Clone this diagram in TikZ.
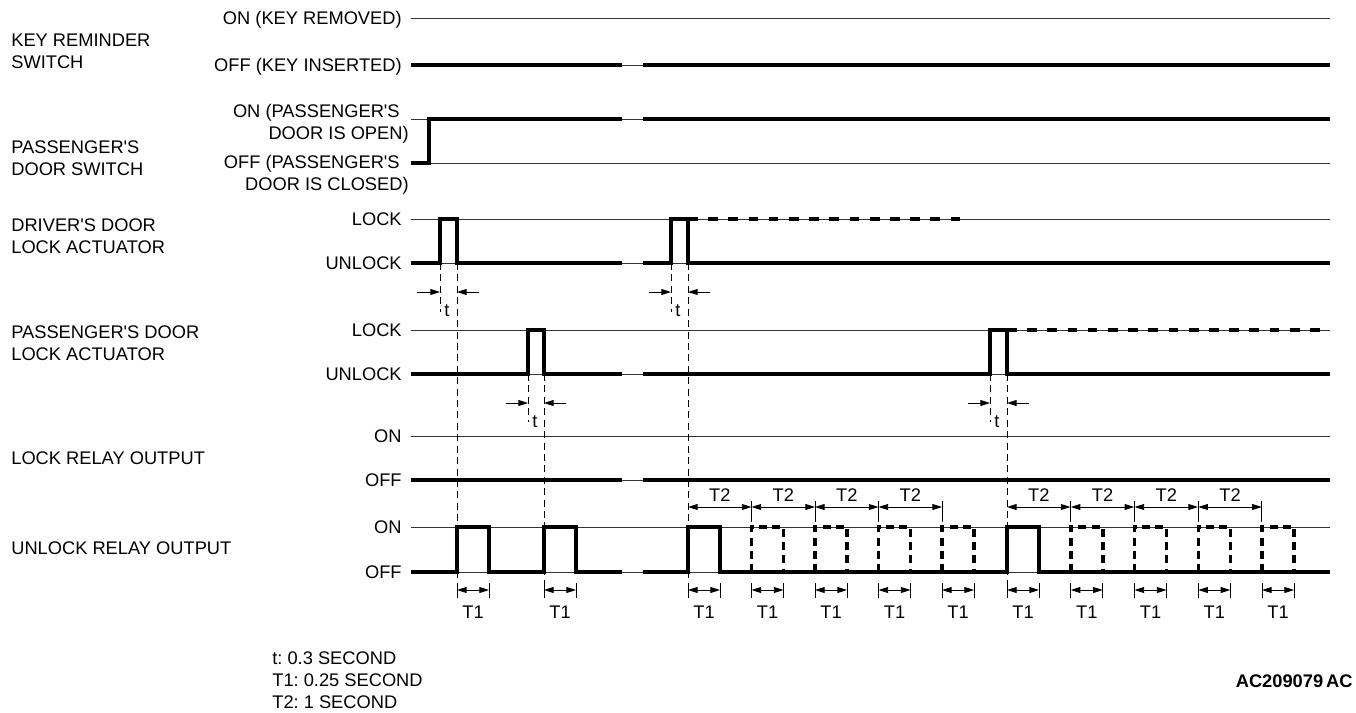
\documentclass[tikz,border=0pt]{standalone}
\usepackage{fontspec}
\setmainfont{Liberation Sans}
\usetikzlibrary{arrows.meta}
\newcommand{\ap}{\textquotesingle}
\frenchspacing

\begin{document}
\begin{tikzpicture}[
    x=0.02cm, y=-0.02cm,
    font=\fontsize{10.4}{12.5}\selectfont,
    sigtitle/.style={anchor=west, align=left, inner sep=0pt},
    lvl/.style={anchor=east, inner sep=0pt, text height=7.4pt, text depth=0pt},
    refline/.style={line width=0.5pt, black!80},
    sig/.style={line width=2pt},
    lockdash/.style={line width=2pt, dash pattern=on 5.5pt off 6pt},
    pulsedash/.style={line width=2pt, dash pattern=on 4.5pt off 3pt},
    guide/.style={line width=0.5pt, dash pattern=on 4pt off 2.5pt},
    dimtick/.style={line width=0.5pt},
    tarrow/.style={line width=0.5pt, -{Triangle[length=5.5pt, width=3.4pt]}},
    dimarrow/.style={line width=0.5pt, {Triangle[length=5.5pt, width=3.4pt]}-{Triangle[length=5.5pt, width=3.4pt]}}
]
\useasboundingbox (0,0) rectangle (1356,713);

\node (keysw) [sigtitle] at (11,51) {KEY REMINDER\\SWITCH};
\node (psgsw) [sigtitle] at (11,158) {PASSENGER\ap S\\DOOR SWITCH};
\node (drvact) [sigtitle] at (11,236) {DRIVER\ap S DOOR\\LOCK ACTUATOR};
\node (psgact) [sigtitle] at (11,343) {PASSENGER\ap S DOOR\\LOCK ACTUATOR};
\node (lockrly) [sigtitle] at (11,458) {LOCK RELAY OUTPUT};
\node (unlockrly) [sigtitle] at (11,548) {UNLOCK RELAY OUTPUT};

\node (keyon) [lvl] at (402,18) {ON (KEY REMOVED)};
\node (keyoff) [lvl] at (402,65) {OFF (KEY INSERTED)};
\node (psgon) [lvl] at (400,111) {ON (PASSENGER\ap S};
\node (psgon2) [lvl] at (409,133) {DOOR IS OPEN)};
\node (psgoff) [lvl] at (400,162) {OFF (PASSENGER\ap S};
\node (psgoff2) [lvl] at (409,184) {DOOR IS CLOSED)};
\node (drvlock) [lvl] at (402,219) {LOCK};
\node (drvunlock) [lvl] at (402,263) {UNLOCK};
\node (psglock) [lvl] at (402,330) {LOCK};
\node (psgunlock) [lvl] at (402,374) {UNLOCK};
\node (lockon) [lvl] at (402,436) {ON};
\node (lockoff) [lvl] at (402,480) {OFF};
\node (unlockon) [lvl] at (402,527) {ON};
\node (unlockoff) [lvl] at (402,572) {OFF};

\foreach \y in {18,65,119,163,219,263,330,374,436,480,527,572}
    \draw [refline] (411,\y) -- (1330,\y);

\draw [sig] (411,65) -- (622,65);
\draw [sig] (643,65) -- (1330,65);

\draw [sig] (411,163) -- (429,163) -- (429,119) -- (622,119);
\draw [sig] (643,119) -- (1330,119);

\draw [sig] (411,263) -- (440,263) -- (440,219) -- (457,219) -- (457,263) -- (622,263);
\draw [sig] (643,263) -- (671,263) -- (671,219) -- (688,219) -- (688,263) -- (1330,263);
\draw [lockdash] (688,219) -- (970,219);

\draw [sig] (411,374) -- (528,374) -- (528,330) -- (544,330) -- (544,374) -- (622,374);
\draw [sig] (643,374) -- (990,374) -- (990,330) -- (1007,330) -- (1007,374) -- (1330,374);
\draw [lockdash] (1007,330) -- (1330,330);

\draw [sig] (411,480) -- (622,480);
\draw [sig] (643,480) -- (1330,480);

\draw [sig] (411,572) -- (457,572) -- (457,527) -- (489,527) -- (489,572) -- (544,572)
    -- (544,527) -- (576,527) -- (576,572) -- (622,572);
\draw [sig] (643,572) -- (688,572) -- (688,527) -- (720,527) -- (720,572) -- (1007,572)
    -- (1007,527) -- (1039,527) -- (1039,572) -- (1330,572);
\foreach \x in {751.5,815,878.5,942,1070.75,1134.5,1198.25,1262}
    \draw [pulsedash] (\x,572) -- (\x,527) -- (\x+32,527) -- (\x+32,572);

\draw [guide] (440,263) -- (440,312);
\draw [guide] (457,263) -- (457,598);
\draw [guide] (528,374) -- (528,422);
\draw [guide] (544,374) -- (544,598);
\draw [guide] (671,263) -- (671,312);
\draw [guide] (688,263) -- (688,598);
\draw [guide] (990,374) -- (990,422);
\draw [guide] (1007,374) -- (1007,598);

\draw [tarrow] (417,292) -- (440,292);
\draw [tarrow] (479,292) -- (457,292);
\node (t1) at (447,311) {t};
\draw [tarrow] (506,403) -- (528,403);
\draw [tarrow] (566,403) -- (544,403);
\node (t2) at (535,422) {t};
\draw [tarrow] (649,292) -- (671,292);
\draw [tarrow] (710,292) -- (688,292);
\node (t3) at (678,311) {t};
\draw [tarrow] (968,403) -- (990,403);
\draw [tarrow] (1029,403) -- (1007,403);
\node (t4) at (997,422) {t};

\foreach \x in {688,751.5,815,878.5,1007,1070.75,1134.5,1198.25} {
    \draw [dimarrow] (\x,507) -- (\x+63.5,507);
    \draw [dimtick] (\x+63.5,501) -- (\x+63.5,522);
    \node at (\x+31.75,495) {T2};
}

\foreach \x in {457,544,688,751.5,815,878.5,942,1007,1070.75,1134.5,1198.25,1262} {
    \draw [dimtick] (\x,583) -- (\x,598);
    \draw [dimtick] (\x+32,583) -- (\x+32,598);
    \draw [dimarrow] (\x,590) -- (\x+32,590);
    \node at (\x+16,612) {T1};
}

\node (legend) [sigtitle] at (272,680) {t: 0.3 SECOND\\T1: 0.25 SECOND\\T2: 1 SECOND};
\node (figid) [anchor=east, inner sep=0pt] at (1353,681) {\bfseries AC209079\,AC};

\end{tikzpicture}
\end{document}
